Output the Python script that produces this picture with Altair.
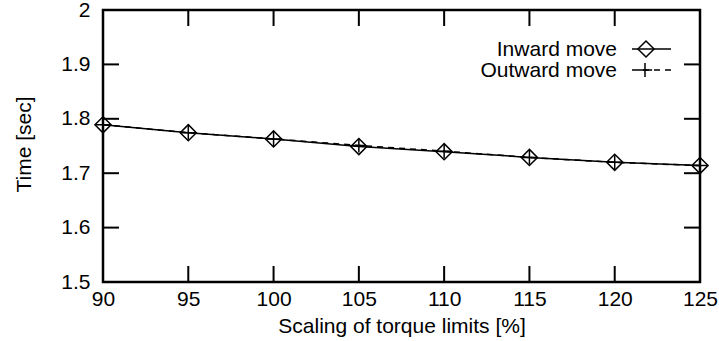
import altair as alt
import pandas as pd

# ---- data ----
scaling = [90, 95, 100, 105, 110, 115, 120, 125]
inward = [1.789, 1.7745, 1.763, 1.749, 1.7395, 1.729, 1.720, 1.714]
outward = [1.789, 1.7745, 1.763, 1.751, 1.7405, 1.729, 1.720, 1.714]
series_names = ["Inward move", "Outward move"]
x_ticks = [90, 95, 100, 105, 110, 115, 120, 125]
y_ticks = [1.5, 1.6, 1.7, 1.8, 1.9, 2.0]

FONT = "Liberation Sans"
FS = 21
W, H = 597, 272
PLUS = "M-1,0H1M0,-1V1"

df_in = pd.DataFrame({"x": scaling, "y": inward, "series": series_names[0]})
df_out = pd.DataFrame({"x": scaling, "y": outward, "series": series_names[1]})
df_xt = pd.DataFrame({"x": x_ticks})
df_yt = pd.DataFrame({"y": y_ticks})

xscale = alt.Scale(domain=[90, 125], nice=False, zero=False)
yscale = alt.Scale(domain=[1.5, 2.0], nice=False, zero=False)

x_axis = alt.Axis(
    values=x_ticks, grid=False, domain=False, ticks=False, tickSize=0,
    labelFontSize=FS, labelFont=FONT, labelColor="black", labelPadding=6,
    title="Scaling of torque limits [%]", titleFont=FONT, titleFontSize=FS,
    titleFontWeight="normal", titleColor="black", titleY=50,
    titleBaseline="alphabetic", labelFlush=False,
)
y_axis = alt.Axis(
    values=y_ticks, grid=False, domain=False, ticks=False, tickSize=0,
    format="~g",
    labelFontSize=FS, labelFont=FONT, labelColor="black", labelPadding=13,
    labelBaseline="middle",
    title="Time [sec]", titleFont=FONT, titleFontSize=FS,
    titleFontWeight="normal", titleColor="black", titleX=-73, titleY=134,
    titleAngle=270, titleBaseline="alphabetic", titleAlign="center",
    labelFlush=False,
)

X = alt.X("x:Q", scale=xscale, axis=x_axis)
Y = alt.Y("y:Q", scale=yscale, axis=y_axis)

line_in = alt.Chart(df_in).mark_line(color="black", strokeWidth=1.5).encode(x=X, y=Y)
pts_in = alt.Chart(df_in).mark_point(
    shape="diamond", size=260, color="black", filled=False, strokeWidth=1.5, opacity=1
).encode(x=X, y=Y)
line_out = alt.Chart(df_out).mark_line(
    color="black", strokeWidth=1.5, strokeDash=[6, 5]
).encode(x=X, y=Y)
pts_out = alt.Chart(df_out).mark_point(
    shape=PLUS, size=200, color="black", filled=False, strokeWidth=1.5, opacity=1
).encode(x=X, y=Y)

TL = 16
tick_bottom = alt.Chart(df_xt).mark_rule(color="black", strokeWidth=2).encode(
    x=X, y=alt.value(H), y2=alt.value(H - TL))
tick_top = alt.Chart(df_xt).mark_rule(color="black", strokeWidth=2).encode(
    x=X, y=alt.value(0), y2=alt.value(TL))
tick_left = alt.Chart(df_yt).mark_rule(color="black", strokeWidth=2).encode(
    y=Y, x=alt.value(0), x2=alt.value(TL))
tick_right = alt.Chart(df_yt).mark_rule(color="black", strokeWidth=2).encode(
    y=Y, x=alt.value(W), x2=alt.value(W - TL))

# ---- key (top right, gnuplot style: label then sample) ----
leg1 = pd.DataFrame({"label": [series_names[0]]})
leg2 = pd.DataFrame({"label": [series_names[1]]})
ROW1, ROW2 = 39, 60
TXT_X = 514
leg_t1 = alt.Chart(leg1).mark_text(
    align="right", baseline="middle", fontSize=FS, font=FONT, color="black"
).encode(text="label:N", x=alt.value(TXT_X), y=alt.value(ROW1 + 1))
leg_t2 = alt.Chart(leg2).mark_text(
    align="right", baseline="middle", fontSize=FS, font=FONT, color="black"
).encode(text="label:N", x=alt.value(TXT_X), y=alt.value(ROW2 + 1))
leg_l1 = alt.Chart(leg1).mark_rule(color="black", strokeWidth=1.5).encode(
    x=alt.value(529), x2=alt.value(568), y=alt.value(ROW1))
leg_p1 = alt.Chart(leg1).mark_point(
    shape="diamond", size=260, color="black", filled=False, strokeWidth=1.5, opacity=1
).encode(x=alt.value(543), y=alt.value(ROW1))
leg_l2 = alt.Chart(leg2).mark_rule(color="black", strokeWidth=1.5, strokeDash=[6, 5]).encode(
    x=alt.value(529), x2=alt.value(568), y=alt.value(ROW2))
leg_p2 = alt.Chart(leg2).mark_point(
    shape=PLUS, size=200, color="black", filled=False, strokeWidth=1.5, opacity=1
).encode(x=alt.value(542), y=alt.value(ROW2))

chart = alt.layer(
    line_in, line_out, pts_in, pts_out,
    tick_bottom, tick_top, tick_left, tick_right,
    leg_t1, leg_t2, leg_l1, leg_p1, leg_l2, leg_p2,
).properties(
    width=W, height=H,
    autosize=alt.AutoSizeParams(type="none"),
    padding={"left": 103, "top": 10, "right": 19, "bottom": 59},
    background="white",
).configure_view(
    stroke="black", strokeWidth=2.5
)

chart.save("out.html", embed_options={"renderer": "svg", "actions": False})
